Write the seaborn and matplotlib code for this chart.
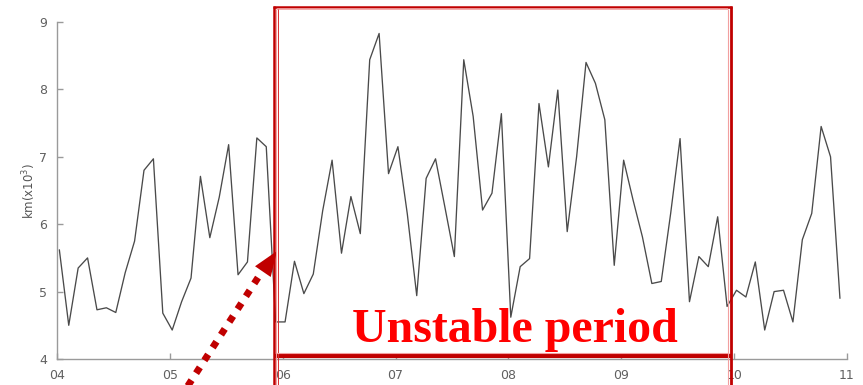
import numpy as np
import pandas as pd
import matplotlib
matplotlib.use("Agg")
import matplotlib.pyplot as plt
import seaborn as sns
from matplotlib.lines import Line2D

# ---- data (monthly, Jan 2004 - Dec 2010), km (x10^3) ----
km_values = [
    5.62, 4.50, 5.35, 5.50, 4.73, 4.76, 4.69, 5.28, 5.75, 6.80, 6.97, 4.68,
    4.43, 4.85, 5.20, 6.71, 5.80, 6.40, 7.18, 5.25, 5.44, 7.28, 7.15, 4.55,
    4.55, 5.45, 4.97, 5.26, 6.20, 6.95, 5.57, 6.41, 5.86, 8.44, 8.83, 6.75,
    7.15, 6.15, 4.94, 6.68, 6.97, 6.25, 5.52, 8.44, 7.60, 6.21, 6.46, 7.64,
    4.62, 5.37, 5.49, 7.79, 6.85, 7.99, 5.89, 7.00, 8.40, 8.09, 7.55, 5.39,
    6.95, 6.36, 5.81, 5.12, 5.15, 6.16, 7.27, 4.85, 5.52, 5.37, 6.11, 4.78,
    5.02, 4.92, 5.44, 4.43, 5.00, 5.02, 4.55, 5.77, 6.16, 7.45, 7.00, 4.90,
]
month_index = np.arange(len(km_values))
years = [4, 5, 6, 7, 8, 9, 10, 11]
year_labels = ["04", "05", "06", "07", "08", "09", "10", "11"]
y_ticks = [4, 5, 6, 7, 8, 9]
annotation_text = "Unstable period"

df = pd.DataFrame({"t": 4 + (month_index + 0.25) / 12.0, "km": km_values})

sns.set_style("ticks")
plt.rcParams["font.family"] = ["DejaVu Sans"]

W, H = 863, 385
fig = plt.figure(figsize=(W / 100, H / 100), dpi=100)
ax = fig.add_axes([57 / W, 1 - 359 / H, (847 - 57) / W, (359 - 22) / H])

sns.lineplot(data=df, x="t", y="km", ax=ax, color="#4a4a4a", lw=0.95)

ax.set_xlim(4, 11)
ax.set_ylim(4, 9)
ax.set_xticks(years)
ax.set_xticklabels(year_labels)
ax.set_yticks(y_ticks)
ax.set_yticklabels([str(v) for v in y_ticks])
ax.set_xlabel("")
ax.set_ylabel("km(x10$^{3}$)", fontsize=8.5, color="#555555", labelpad=1)

sns.despine(ax=ax)
for s in ["left", "bottom"]:
    ax.spines[s].set_color("#9a9a9a")
    ax.spines[s].set_linewidth(1.0)
ax.tick_params(axis="both", direction="in", length=4, width=1, color="#9a9a9a",
               labelcolor="#606060", labelsize=9, pad=7)

# ---- red box (figure pixel geometry) ----
def fx(x):
    return x / W

def fy(y):
    return 1 - y / H

def seg(x0, y0, x1, y1, **kw):
    fig.add_artist(Line2D([fx(x0), fx(x1)], [fy(y0), fy(y1)],
                          solid_capstyle="butt", **kw))

dark = "#c00000"
pink = "#f2a0a0"
L, R, T, B = 274.0, 730.5, 6.5, 356.0
# outer dark lines
seg(L - 1, T, R + 1, T, color=dark, lw=1.8)
seg(L, T - 1, L, H + 2, color=dark, lw=1.8)
seg(R, T - 1, R, H + 2, color=dark, lw=2.0)
seg(L, B, R, B, color=dark, lw=3.0)
# inner pale lines
seg(L + 2.5, T + 2.2, R - 2.5, T + 2.2, color=pink, lw=1.2)
seg(L + 2.3, T + 2, L + 2.3, H + 2, color=pink, lw=0.8)
seg(L + 3.6, T + 2, L + 3.6, H + 2, color="#d83030", lw=0.7)
seg(R - 2.3, T + 2, R - 2.3, H + 2, color=pink, lw=0.8)
seg(L + 2, B - 2.6, R - 2, B - 2.6, color=pink, lw=0.8)

# ---- label ----
fig.text(fx(514.5), fy(342), annotation_text, color="#ff0000", fontsize=34.5,
         fontweight="bold", family=["Liberation Serif", "DejaVu Serif"],
         ha="center", va="baseline")

# ---- dotted arrow ----
fig.add_artist(Line2D([fx(180), fx(261)], [fy(398), fy(273)], color=dark,
                      lw=5.0, dashes=(1.0, 1.2), dash_capstyle="butt"))
ax.annotate("", xy=(277, H - 251), xytext=(240, H - 305),
            xycoords="figure pixels", textcoords="figure pixels",
            arrowprops=dict(arrowstyle="-|>,head_length=1.0,head_width=0.38",
                            mutation_scale=18, color=dark, lw=0,
                            shrinkA=0, shrinkB=0),
            annotation_clip=False)

fig.savefig("out.png", dpi=100, facecolor="white")
